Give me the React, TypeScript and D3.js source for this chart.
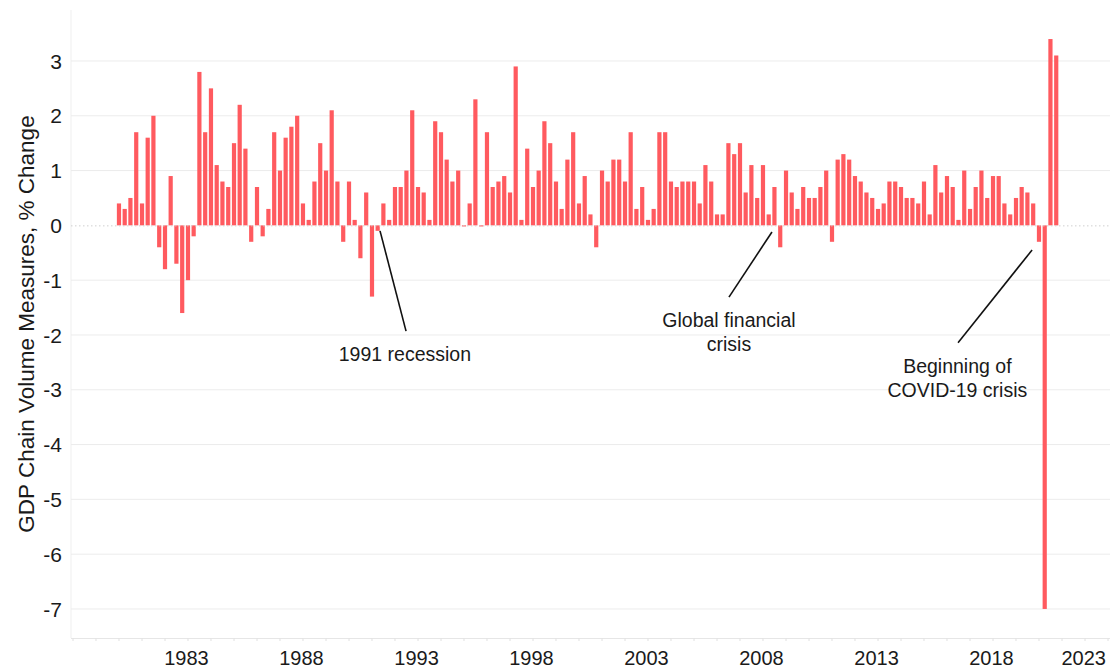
import React from "react";
import * as d3 from "d3";

// Quarterly GDP growth, chain volume measures, % change (1980 Q1 – 2020 Q4)
const START_YEAR = 1980;
const gdpChange: number[] = [
  0.4, 0.3, 0.5, 1.7, 0.4, 1.6, 2.0, -0.4, -0.8, 0.9, -0.7, -1.6, -1.0, -0.2, 2.8, 1.7, 2.5, 1.1, 0.8, 0.7,
  1.5, 2.2, 1.4, -0.3, 0.7, -0.2, 0.3, 1.7, 1.0, 1.6, 1.8, 2.0, 0.4, 0.1, 0.8, 1.5, 1.0, 2.1, 0.8, -0.3, 0.8,
  0.1, -0.6, 0.6, -1.3, -0.1, 0.4, 0.1, 0.7, 0.7, 1.0, 2.1, 0.7, 0.6, 0.1, 1.9, 1.7, 1.2, 0.8, 1.0, -0.02, 0.4,
  2.3, -0.02, 1.7, 0.7, 0.8, 0.9, 0.6, 2.9, 0.1, 1.4, 0.7, 1.0, 1.9, 1.5, 0.8, 0.3, 1.2, 1.7, 0.4, 0.9,
  0.2, -0.4, 1.0, 0.8, 1.2, 1.2, 0.8, 1.7, 0.3, 0.7, 0.1, 0.3, 1.7, 1.7, 0.8, 0.7, 0.8, 0.8, 0.8, 0.4, 1.1,
  0.8, 0.2, 0.2, 1.5, 1.3, 1.5, 0.6, 1.1, 0.5, 1.1, 0.2, 0.7, -0.4, 1.0, 0.6, 0.3, 0.7, 0.5, 0.5, 0.7, 1.0,
  -0.3, 1.2, 1.3, 1.2, 0.9, 0.8, 0.6, 0.5, 0.3, 0.4, 0.8, 0.8, 0.7, 0.5, 0.5, 0.4, 0.8, 0.2, 1.1, 0.6, 0.9,
  0.7, 0.1, 1.0, 0.3, 0.7, 1.0, 0.5, 0.9, 0.9, 0.4, 0.2, 0.5, 0.7, 0.6, 0.4, -0.3, -7.0, 3.4, 3.1,
];
const quarterDates: Date[] = gdpChange.map(
  (_, i) => new Date(START_YEAR + Math.floor(i / 4), (i % 4) * 3, 1)
);

const yTicks = [3, 2, 1, 0, -1, -2, -3, -4, -5, -6, -7];
const xTickYears = [1983, 1988, 1993, 1998, 2003, 2008, 2013, 2018, 2023];

// Annotations: line from (fromYear, fromVal) to (toYear, toVal); label centered at labelYear, first baseline at labelVal
const annotations = [
  { lines: ["1991 recession"], fromYear: 1991.35, fromVal: -0.1, toYear: 1992.48, toVal: -1.93, labelYear: 1992.43, labelVal: -2.47 },
  { lines: ["Global financial", "crisis"], fromYear: 2008.39, fromVal: -0.12, toYear: 2006.52, toVal: -1.31, labelYear: 2006.52, labelVal: -1.86 },
  { lines: ["Beginning of", "COVID-19 crisis"], fromYear: 2019.7, fromVal: -0.45, toYear: 2016.48, toVal: -2.14, labelYear: 2016.45, labelVal: -2.7 },
];

const W = 1114;
const H = 671;
const FONT = "'Liberation Sans', Arial, sans-serif";
const BAR_COLOR = "#ff5a5f";

const yearDate = (y: number) => {
  const yr = Math.floor(y);
  const frac = y - yr;
  const a = new Date(yr, 0, 1).getTime();
  const b = new Date(yr + 1, 0, 1).getTime();
  return new Date(a + frac * (b - a));
};

export default function App() {
  const x = d3.scaleTime().domain([new Date(1978, 0, 1), new Date(2023, 0, 1)]).range([73, 1108]);
  const y = d3.scaleLinear().domain([-7.53, 3.93]).range([638, 10]);
  const plotLeft = 71;
  const plotRight = 1110;
  const barW = 4.2;

  return (
    <div style={{ position: "fixed", left: 0, top: 0, width: W, height: H, background: "#fff" }}>
      <svg width={W} height={H} style={{ display: "block", fontFamily: FONT }}>
        {/* left frame line */}
        <line x1={plotLeft} x2={plotLeft} y1={10} y2={638} stroke="#efefef" strokeWidth={1} />
        {/* gridlines */}
        {yTicks.filter((t) => t !== 0).map((t) => (
          <line key={"g" + t} x1={plotLeft} x2={plotRight} y1={y(t)} y2={y(t)} stroke="#ececec" strokeWidth={1} />
        ))}
        {/* y tick labels */}
        {yTicks.map((t) => (
          <text key={"yl" + t} x={62} y={y(t)} dy="0.36em" textAnchor="end" fontSize={21} fill="#1a1a1a">
            {t}
          </text>
        ))}
        {/* y axis title */}
        <text
          transform={`translate(34, ${324}) rotate(-90)`}
          textAnchor="middle"
          fontSize={22.5}
          fill="#1a1a1a"
        >
          GDP Chain Volume Measures, % Change
        </text>
        {/* bottom axis */}
        <line x1={plotLeft} x2={plotRight} y1={638.5} y2={638.5} stroke="#e6e6e6" strokeWidth={1} />
        {d3.range(1978, 2024).map((yr) => (
          <line key={"t" + yr} x1={x(new Date(yr, 0, 1))} x2={x(new Date(yr, 0, 1))} y1={638.5} y2={641} stroke="#e0e0e0" strokeWidth={1} />
        ))}
        {xTickYears.map((yr, i) => {
          const last = i === xTickYears.length - 1;
          const px = x(new Date(yr, 0, 1));
          return (
            <text
              key={"xl" + yr}
              x={last ? Math.min(px, 1106) : px - 1.5}
              y={665}
              textAnchor={last ? "end" : "middle"}
              fontSize={20}
              fill="#1a1a1a"
            >
              {yr}
            </text>
          );
        })}
        {/* bars */}
        {gdpChange.map((v, i) => {
          const cx = x(quarterDates[i]);
          const y0 = y(0);
          const yv = y(v);
          return (
            <rect
              key={"b" + i}
              x={cx - barW / 2}
              y={Math.min(y0, yv)}
              width={barW}
              height={Math.max(Math.abs(yv - y0), 0.8)}
              fill={BAR_COLOR}
            />
          );
        })}
        {/* zero dotted line */}
        <line x1={plotLeft} x2={plotRight} y1={y(0) + 0.5} y2={y(0) + 0.5} stroke="#cfcfcf" strokeWidth={1} strokeDasharray="1.5,2.5" />
        {/* annotations */}
        {annotations.map((a, i) => (
          <g key={"a" + i}>
            <line
              x1={x(yearDate(a.fromYear))}
              y1={y(a.fromVal)}
              x2={x(yearDate(a.toYear))}
              y2={y(a.toVal)}
              stroke="#111"
              strokeWidth={1.6}
            />
            {a.lines.map((ln, j) => (
              <text
                key={j}
                x={x(yearDate(a.labelYear))}
                y={y(a.labelVal) + j * 24}
                textAnchor="middle"
                fontSize={19.5}
                fill="#1a1a1a"
              >
                {ln}
              </text>
            ))}
          </g>
        ))}
      </svg>
    </div>
  );
}
